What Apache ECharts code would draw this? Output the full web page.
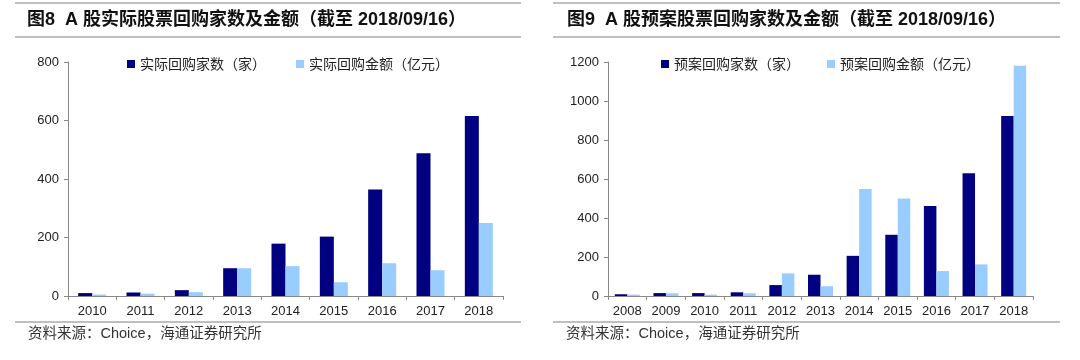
<!DOCTYPE html>
<html><head><meta charset="utf-8">
<script src="https://cdn.jsdelivr.net/npm/echarts@6/dist/echarts.min.js"></script>
<style>html,body{margin:0;padding:0;background:#fff}#c{width:1080px;height:360px}</style>
</head><body><div id="c"></div>
<script>
const yearsL = ['2010','2011','2012','2013','2014','2015','2016','2017','2018'];
const actualCount = [10, 12, 20, 95, 179, 203, 364, 488, 615];
const actualAmount = [5, 8, 13, 95, 102, 47, 112, 88, 250];
const yearsR = ['2008','2009','2010','2011','2012','2013','2014','2015','2016','2017','2018'];
const planCount = [9, 15, 15, 19, 56, 109, 206, 314, 461, 630, 923];
const planAmount = [7, 14, 7, 14, 116, 50, 549, 500, 128, 162, 1181];
const titleL = '图8  A 股实际股票回购家数及金额（截至 2018/09/16）';
const titleR = '图9  A 股预案股票回购家数及金额（截至 2018/09/16）';
const source = '资料来源：Choice，海通证券研究所';
const nameL1 = '实际回购家数（家）', nameL2 = '实际回购金额（亿元）';
const nameR1 = '预案回购家数（家）', nameR2 = '预案回购金额（亿元）';

const DARK = '#000080', LIGHT = '#99CCFF';
const FONT = '"Liberation Sans", Arial, "Noto Sans CJK SC", sans-serif';
const axisCommon = {
  axisLine: {show: true, lineStyle: {color: '#888', width: 1}},
  axisTick: {show: true, length: 4, lineStyle: {color: '#888'}},
  splitLine: {show: false}
};
function xAxis(idx, data) {
  return Object.assign({}, axisCommon, {
    type: 'category', gridIndex: idx, data: data,
    axisTick: {show: true, length: 4, alignWithLabel: false, lineStyle: {color: '#888'}},
    axisLabel: {fontSize: 13, color: '#222', margin: 9, fontFamily: FONT}
  });
}
function yAxis(idx, max) {
  return Object.assign({}, axisCommon, {
    type: 'value', gridIndex: idx, min: 0, max: max, interval: 200,
    axisLabel: {fontSize: 13, color: '#222', margin: 9, fontFamily: FONT, formatter: v => String(v)}
  });
}
function line(x1, x2, y) {
  return {type: 'line', shape: {x1: x1, y1: y, x2: x2, y2: y}, style: {stroke: '#808080', lineWidth: 1}};
}
function text(x, y, t, size, bold, color) {
  return {type: 'text', x: x, y: y, style: {text: t, fontSize: size, fontWeight: bold ? 'bold' : 'normal',
    fontFamily: FONT, fill: color, textVerticalAlign: 'middle', verticalAlign: 'middle'}};
}
const legendText = {fontSize: 14, color: '#222', fontFamily: '"Noto Sans CJK SC", sans-serif'};
function legend(name, left) {
  return {data: [name], left: left, top: 57, padding: 0, itemWidth: 8, itemHeight: 8, itemGap: 2,
    textStyle: legendText, icon: 'rect'};
}
const chart = echarts.init(document.getElementById('c'));
chart.setOption({
  animation: false,
  backgroundColor: '#fff',
  grid: [
    {left: 68, top: 62, width: 435, height: 234},
    {left: 608, top: 62, width: 425, height: 234}
  ],
  xAxis: [xAxis(0, yearsL), xAxis(1, yearsR)],
  yAxis: [yAxis(0, 800), yAxis(1, 1200)],
  legend: [legend(nameL1, 127), legend(nameL2, 296), legend(nameR1, 661), legend(nameR2, 827)],
  series: [
    {name: nameL1, type: 'bar', xAxisIndex: 0, yAxisIndex: 0, data: actualCount, barWidth: 14, barGap: '0%', itemStyle: {color: DARK}},
    {name: nameL2, type: 'bar', xAxisIndex: 0, yAxisIndex: 0, data: actualAmount, barWidth: 14, barGap: '0%', itemStyle: {color: LIGHT}},
    {name: nameR1, type: 'bar', xAxisIndex: 1, yAxisIndex: 1, data: planCount, barWidth: 12.5, barGap: '0%', itemStyle: {color: DARK}},
    {name: nameR2, type: 'bar', xAxisIndex: 1, yAxisIndex: 1, data: planAmount, barWidth: 12.5, barGap: '0%', itemStyle: {color: LIGHT}}
  ],
  graphic: [
    line(15, 521, 3), line(15, 521, 37), line(15, 521, 322),
    line(553, 1060, 3), line(553, 1060, 37), line(553, 1060, 322),
    text(27, 20, titleL, 18, true, '#111'),
    text(567, 20, titleR, 18, true, '#111'),
    text(28, 334, source, 14.5, false, '#333'),
    text(566, 334, source, 14.5, false, '#333')
  ]
});
</script></body></html>
